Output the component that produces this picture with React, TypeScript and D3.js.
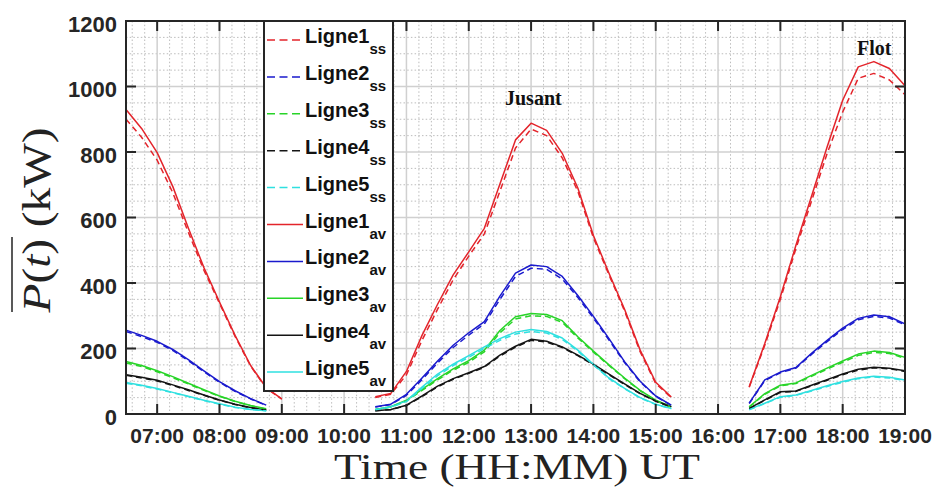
import React from 'react';
import * as d3 from 'd3';

// ---------- data ----------
const timesAM = ["06:30", "06:45", "07:00", "07:15", "07:30", "07:45", "08:00", "08:15", "08:30", "08:45", "09:00"];
const timesMID = ["10:30", "10:45", "11:00", "11:15", "11:30", "11:45", "12:00", "12:15", "12:30", "12:45",
  "13:00", "13:15", "13:30", "13:45", "14:00", "14:15", "14:30", "14:45", "15:00", "15:15"];
const timesPM = ["16:30", "16:45", "17:00", "17:15", "17:30", "17:45", "18:00", "18:15", "18:30", "18:45", "19:00"];

// Ligne1
const l1avAM = [930, 872, 798, 695, 568, 447, 342, 240, 148, 80, 46];
const l1ssAM = [900, 845, 775, 676, 555, 439, 338, 237, 146, 79, 45];
const l1avMID = [53, 63, 130, 240, 335, 425, 495, 567, 702, 837, 888, 866, 796, 690, 545, 430, 320, 195, 97, 52];
const l1ssMID = [50, 60, 120, 225, 320, 410, 482, 550, 680, 812, 870, 850, 782, 680, 538, 425, 315, 190, 93, 50];
const l1avPM = [83, 215, 358, 515, 665, 815, 958, 1060, 1076, 1055, 1002];
const l1ssPM = [82, 210, 350, 505, 650, 795, 922, 1025, 1040, 1020, 975];
// Ligne2
const l2avAM = [256, 240, 222, 197, 166, 132, 99, 71, 47, 27];
const l2ssAM = [252, 236, 219, 194, 163, 129, 97, 69, 46, 26];
const l2avMID = [22, 30, 60, 110, 162, 210, 248, 282, 360, 430, 455, 450, 420, 362, 298, 230, 160, 100, 55, 27];
const l2ssMID = [21, 29, 57, 105, 156, 203, 241, 275, 350, 420, 445, 442, 412, 356, 293, 226, 157, 98, 54, 26];
const l2avPM = [33, 104, 128, 142, 185, 225, 262, 292, 302, 297, 275];
const l2ssPM = [32, 102, 126, 140, 182, 221, 258, 288, 298, 293, 272];
// Ligne3
const l3avAM = [160, 148, 132, 114, 94, 74, 55, 39, 26, 16];
const l3ssAM = [156, 145, 129, 111, 92, 72, 54, 38, 25, 15];
const l3avMID = [14, 22, 42, 75, 108, 138, 163, 195, 255, 297, 307, 304, 285, 236, 192, 150, 110, 72, 42, 22];
const l3ssMID = [13, 21, 40, 72, 104, 134, 158, 190, 248, 290, 300, 298, 280, 232, 189, 148, 108, 71, 41, 21];
const l3avPM = [22, 62, 88, 95, 118, 140, 162, 183, 192, 188, 173];
const l3ssPM = [21, 60, 86, 93, 115, 137, 158, 179, 188, 185, 170];
// Ligne4
const l4avAM = [120, 112, 103, 89, 74, 58, 43, 30, 20, 12];
const l4ssAM = [118, 110, 101, 87, 72, 57, 42, 29, 19, 12];
const l4avMID = [10, 14, 27, 55, 85, 108, 126, 145, 180, 207, 228, 222, 205, 180, 152, 122, 92, 63, 40, 22];
const l4ssMID = [10, 13, 26, 53, 83, 106, 124, 143, 177, 204, 225, 220, 203, 178, 150, 120, 90, 62, 39, 21];
const l4avPM = [17, 43, 68, 70, 88, 105, 122, 137, 143, 140, 132];
const l4ssPM = [16, 42, 66, 69, 86, 103, 120, 134, 141, 138, 130];
// Ligne5
const l5avAM = [96, 88, 78, 66, 54, 42, 31, 21, 14, 10];
const l5ssAM = [94, 86, 76, 65, 53, 41, 30, 20, 14, 10];
const l5avMID = [14, 22, 40, 82, 122, 152, 178, 205, 230, 250, 258, 252, 232, 195, 152, 110, 78, 50, 30, 17];
const l5ssMID = [13, 21, 38, 78, 117, 148, 173, 200, 225, 244, 252, 247, 228, 192, 150, 108, 77, 49, 29, 16];
const l5avPM = [14, 33, 53, 58, 72, 86, 99, 110, 115, 112, 104];
const l5ssPM = [13, 32, 51, 57, 70, 84, 97, 108, 113, 110, 102];

const xTickLabels = ["07:00", "08:00", "09:00", "10:00", "11:00", "12:00", "13:00", "14:00", "15:00", "16:00", "17:00", "18:00", "19:00"];
const yTickValues = [0, 200, 400, 600, 800, 1000, 1200];

const RED = '#e3242b';
const BLUE = '#1a1acd';
const GREEN = '#28d428';
const BLACK = '#141414';
const CYAN = '#2fe0e0';

const toHours = (s: string) => {
  const [h, m] = s.split(':').map(Number);
  return h + m / 60;
};

type Series = { name: string; sub: string; color: string; dashed: boolean; am: number[]; mid: number[]; pm: number[] };

const series: Series[] = [
  { name: 'Ligne1', sub: 'ss', color: RED, dashed: true, am: l1ssAM, mid: l1ssMID, pm: l1ssPM },
  { name: 'Ligne2', sub: 'ss', color: BLUE, dashed: true, am: l2ssAM, mid: l2ssMID, pm: l2ssPM },
  { name: 'Ligne3', sub: 'ss', color: GREEN, dashed: true, am: l3ssAM, mid: l3ssMID, pm: l3ssPM },
  { name: 'Ligne4', sub: 'ss', color: BLACK, dashed: true, am: l4ssAM, mid: l4ssMID, pm: l4ssPM },
  { name: 'Ligne5', sub: 'ss', color: CYAN, dashed: true, am: l5ssAM, mid: l5ssMID, pm: l5ssPM },
  { name: 'Ligne1', sub: 'av', color: RED, dashed: false, am: l1avAM, mid: l1avMID, pm: l1avPM },
  { name: 'Ligne2', sub: 'av', color: BLUE, dashed: false, am: l2avAM, mid: l2avMID, pm: l2avPM },
  { name: 'Ligne3', sub: 'av', color: GREEN, dashed: false, am: l3avAM, mid: l3avMID, pm: l3avPM },
  { name: 'Ligne4', sub: 'av', color: BLACK, dashed: false, am: l4avAM, mid: l4avMID, pm: l4avPM },
  { name: 'Ligne5', sub: 'av', color: CYAN, dashed: false, am: l5avAM, mid: l5avMID, pm: l5avPM },
];

const PL = 126, PR = 905, PT = 21, PB = 414;
const AXIS = '#262626';
const SANS = '"Liberation Sans", Arial, sans-serif';
const SERIF = '"Liberation Serif", "Times New Roman", serif';

export default function App() {
  const x = d3.scaleLinear().domain([6.5, 19]).range([PL, PR]);
  const y = d3.scaleLinear().domain([0, 1200]).range([PB, PT]);
  const line = d3.line<[number, number]>().x(d => x(d[0])).y(d => y(d[1]));

  const seg = (times: string[], vals: number[]) =>
    line(vals.map((v, i) => [toHours(times[i]), v] as [number, number])) || '';

  const minorX = d3.range(33, 95).filter(k => k % 5 !== 0).map(k => k * 0.2);
  const minorY = d3.range(50, 1200, 50).filter(v => v % 200 !== 0);
  const majorX = xTickLabels.map(toHours);

  const legendY0 = 40, legendStep = 36.9;
  const drawOrder = [...series.slice(5), ...series.slice(0, 5)];

  return (
    <svg width={936} height={493} style={{ position: 'absolute', left: 0, top: 0, background: '#fff' }}
      xmlns="http://www.w3.org/2000/svg">
      <rect x={0} y={0} width={936} height={493} fill="#fff" />
      {/* minor grid */}
      <g stroke="#bcbcbc" strokeWidth={1} strokeDasharray="1.5,2.2">
        {minorX.map((t, i) => <line key={'mx' + i} x1={x(t)} x2={x(t)} y1={PT} y2={PB} />)}
        {minorY.map((v, i) => <line key={'my' + i} x1={PL} x2={PR} y1={y(v)} y2={y(v)} />)}
      </g>
      {/* major grid */}
      <g stroke="#d0d0d0" strokeWidth={1.5}>
        {majorX.map((t, i) => <line key={'Mx' + i} x1={x(t)} x2={x(t)} y1={PT} y2={PB} />)}
        {yTickValues.map((v, i) => <line key={'My' + i} x1={PL} x2={PR} y1={y(v)} y2={y(v)} />)}
      </g>
      {/* series */}
      <g fill="none" strokeWidth={1.5} strokeLinejoin="round">
        {drawOrder.map((s, i) => (
          <g key={'s' + i} stroke={s.color} strokeDasharray={s.dashed ? '6,4' : undefined}>
            <path d={seg(timesAM, s.am)} />
            <path d={seg(timesMID, s.mid)} />
            <path d={seg(timesPM, s.pm)} />
          </g>
        ))}
      </g>
      {/* ticks */}
      <g stroke={AXIS} strokeWidth={2}>
        {majorX.map((t, i) => (
          <g key={'tx' + i}>
            <line x1={x(t)} x2={x(t)} y1={PB} y2={PB - 10} />
            <line x1={x(t)} x2={x(t)} y1={PT} y2={PT + 10} />
          </g>
        ))}
        {yTickValues.map((v, i) => (
          <g key={'ty' + i}>
            <line x1={PL} x2={PL + 10} y1={y(v)} y2={y(v)} />
            <line x1={PR} x2={PR - 10} y1={y(v)} y2={y(v)} />
          </g>
        ))}
      </g>
      <rect x={PL} y={PT} width={PR - PL} height={PB - PT} fill="none" stroke={AXIS} strokeWidth={2} />
      {/* tick labels */}
      <g fontFamily={SANS} fontWeight="bold" fill={AXIS}>
        {xTickLabels.map((l, i) => (
          <text key={'xl' + i} x={x(toHours(l))} y={443} textAnchor="middle" fontSize={21}>{l}</text>
        ))}
        {yTickValues.map((v, i) => (
          <text key={'yl' + i} x={117} y={y(v) + 10.5} textAnchor="end" fontSize={22}>{v}</text>
        ))}
      </g>
      {/* annotations */}
      <text x={505} y={105} fontFamily={SERIF} fontWeight="bold" fontSize={20} fill="#111">Jusant</text>
      <text x={857} y={55} fontFamily={SERIF} fontWeight="bold" fontSize={20} fill="#111">Flot</text>
      {/* legend */}
      <rect x={264} y={PT} width={129} height={370} fill="#fff" stroke={AXIS} strokeWidth={2} />
      {series.map((s, i) => {
        const ly = legendY0 + i * legendStep;
        return (
          <g key={'lg' + i}>
            <line x1={267} x2={303} y1={ly} y2={ly} stroke={s.color} strokeWidth={1.5}
              strokeDasharray={s.dashed ? '8,4.5' : undefined} />
            <text x={305} y={ly + 3} fontFamily={SANS} fontWeight="bold" fontSize={20} fill="#111">
              {s.name}
              <tspan dy={11} fontSize={15}>{s.sub}</tspan>
            </text>
          </g>
        );
      })}
      {/* axis labels */}
      <text x={517} y={479} fontFamily={SERIF} fontSize={35} fill="#222" textAnchor="middle"
        textLength={366} lengthAdjust="spacingAndGlyphs">Time (HH:MM) UT</text>
      <g transform="translate(50,220) rotate(-90)">
        <text x={0} y={0} fontFamily={SERIF} fontSize={40} fill="#222" textAnchor="middle"
          textLength={185} lengthAdjust="spacingAndGlyphs">
          <tspan fontStyle="italic">P</tspan>(<tspan fontStyle="italic">t</tspan>) (kW)
        </text>
        <line x1={-92} x2={-17} y1={-38} y2={-38} stroke="#222" strokeWidth={1.5} />
      </g>
    </svg>
  );
}
